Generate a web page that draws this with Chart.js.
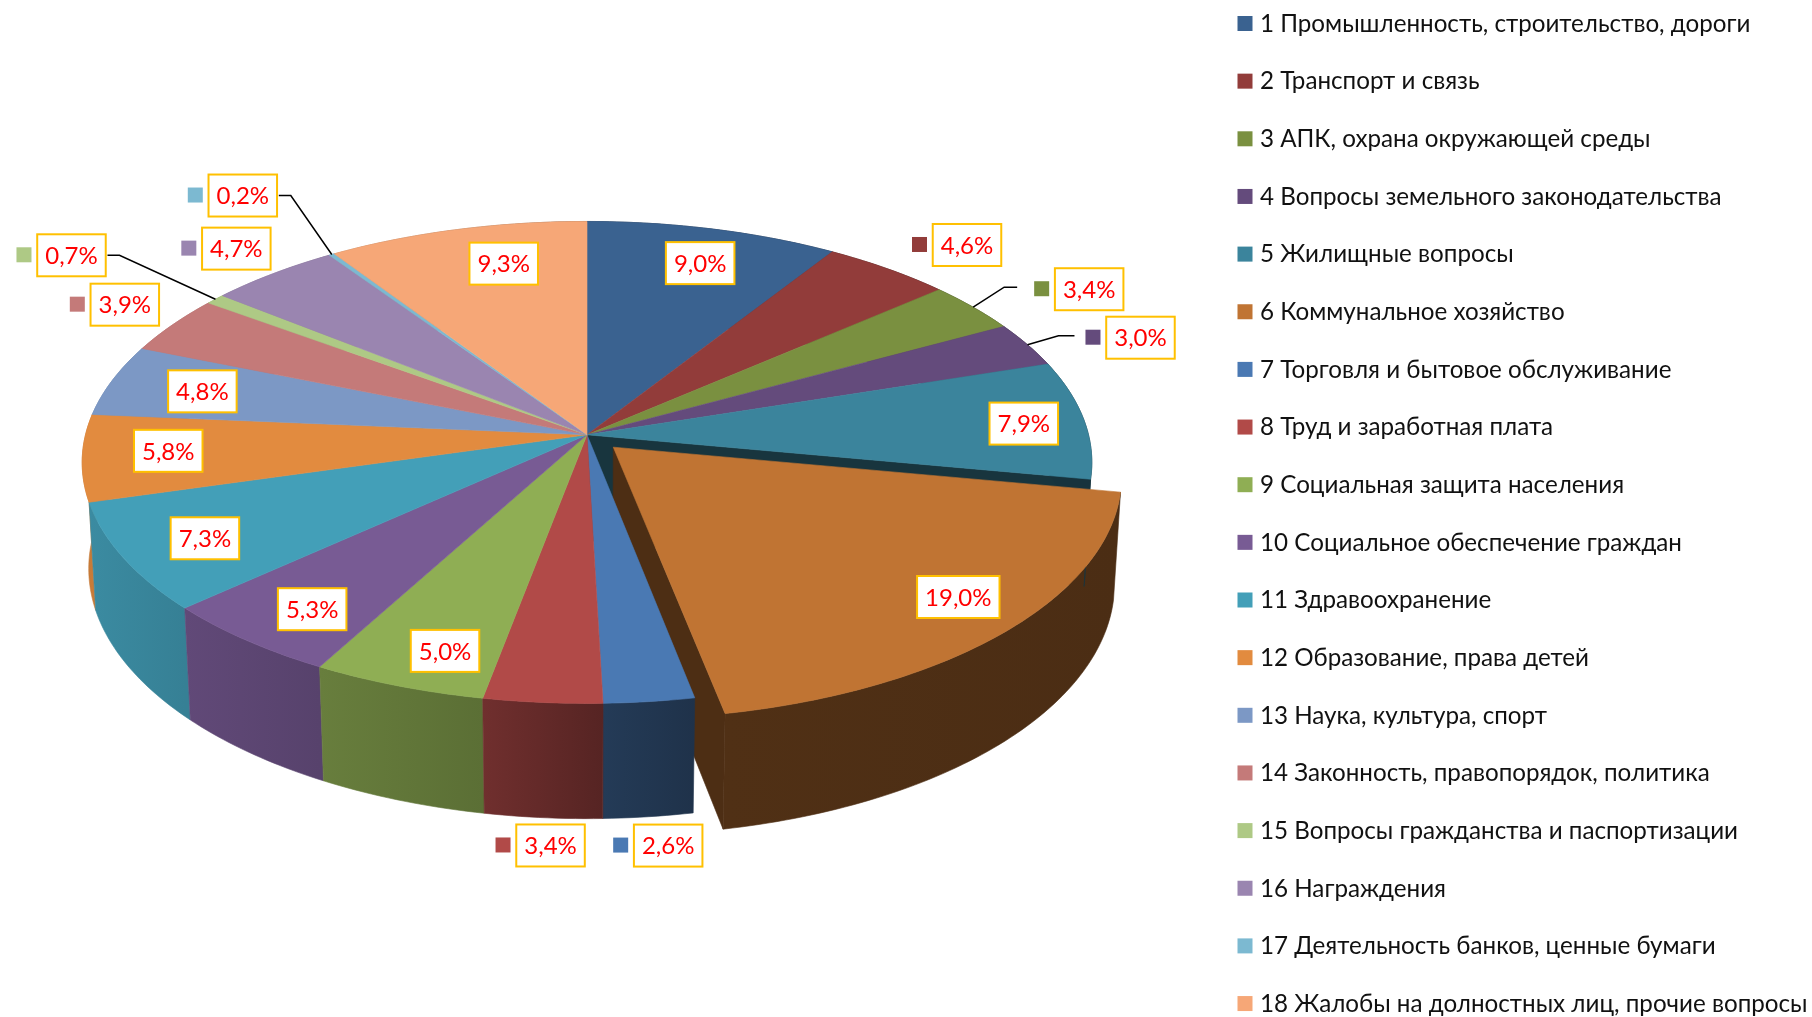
<!DOCTYPE html>
<html>
<head>
<meta charset="utf-8">
<style>
  html, body { margin: 0; padding: 0; background: #fff; overflow: hidden; }
  canvas { display: block; }
</style>
<script src="https://cdn.jsdelivr.net/npm/chart.js@4"></script>
</head>
<body>
<canvas id="pie" width="1812" height="1017"></canvas>
<script>
const categories = [
  '1 Промышленность, строительство, дороги',
  '2 Транспорт и связь',
  '3 АПК, охрана окружающей среды',
  '4 Вопросы земельного законодательства',
  '5 Жилищные вопросы',
  '6 Коммунальное хозяйство',
  '7 Торговля и бытовое обслуживание',
  '8 Труд и заработная плата',
  '9 Социальная защита населения',
  '10 Социальное обеспечение граждан',
  '11 Здравоохранение',
  '12 Образование, права детей',
  '13 Наука, культура, спорт',
  '14 Законность, правопорядок, политика',
  '15 Вопросы гражданства и паспортизации',
  '16 Награждения',
  '17 Деятельность банков, ценные бумаги',
  '18 Жалобы на долностных лиц, прочие вопросы'
];
const shares = [9.0, 4.6, 3.4, 3.0, 7.9, 19.0, 2.6, 3.4, 5.0, 5.3, 7.3, 5.8, 4.8, 3.9, 0.7, 4.7, 0.2, 9.3];
const sliceColors = [
  '#3a6290', '#923c3a', '#7a9040', '#644b7c', '#3b849c', '#c07433',
  '#4a79b3', '#b14a48', '#8fae54', '#785b94', '#439fb8', '#e28b3f',
  '#7c98c5', '#c47a79', '#aec985', '#9a85b0', '#7cb9d1', '#f6a777'
];
const sliceOffsets = [0, 0, 0, 0, 0, 36, 0, 0, 0, 0, 0, 0, 0, 0, 0, 0, 0, 0];

// label box centre, relative to the middle of the slice's rim
const labelOffsets = [
  [-13, 34], [79, -24], [116, -18], [113, -7], [-60, 4], [-16, -20],
  [19, 144], [8, 143], [47, -35], [66, -31], [82, -19], [86, -7],
  [90, 11], [-48, -20], [-144, -44], [-37, -25], [-89, -59], [47, 34]
];
const slicesWithKey = [1, 2, 3, 6, 7, 13, 14, 15, 16];
// slice index: [leader end x, elbow x, y], relative to the label centre
const leaders = { 2: [-72, -85, -2], 3: [-66, -82, -2], 14: [36, 48, 0], 16: [36, 48, 0] };

const FONT = 'Lato, "Open Sans", sans-serif';
const pie3d = { cx: 587, cy: 434.8, rx: 501.5, ry: 237.8, persp: 0.1147, drop: 107, sink: 0.013 };

function project(x, y, z) {
  const w = 1 - pie3d.persp * y + pie3d.sink * z;
  return [pie3d.cx + pie3d.rx * x / w, pie3d.cy + (pie3d.ry * y + pie3d.drop * z) / w];
}

// arc angles come from chart.js, 0 is up and it runs clockwise
function sliceGeometry(arc) {
  const start = arc.startAngle + Math.PI / 2;
  const end = arc.endAngle + Math.PI / 2;
  const mid = (start + end) / 2;
  const e = (arc.options.offset || 0) / arc.outerRadius;
  return { start, end, mid, ox: e * Math.sin(mid), oy: -e * Math.cos(mid) };
}

function rimPoint(g, angle, z) {
  return project(g.ox + Math.sin(angle), g.oy - Math.cos(angle), z);
}

function rimPoints(g, z) {
  const steps = Math.max(2, Math.ceil((g.end - g.start) * 60));
  const pts = [];
  for (let i = 0; i <= steps; i++) {
    pts.push(rimPoint(g, g.start + (g.end - g.start) * i / steps, z));
  }
  return pts;
}

function fillPoly(ctx, pts, fill) {
  ctx.beginPath();
  pts.forEach((p, i) => (i ? ctx.lineTo(p[0], p[1]) : ctx.moveTo(p[0], p[1])));
  ctx.closePath();
  ctx.fillStyle = fill;
  ctx.fill();
  ctx.strokeStyle = fill;
  ctx.lineWidth = 0.6;
  ctx.stroke();
}

function shadeColor(hex, k) {
  const n = parseInt(hex.slice(1), 16);
  return `rgb(${Math.round((n >> 16) * k)},${Math.round(((n >> 8) & 255) * k)},${Math.round((n & 255) * k)})`;
}

// walls get darker from left to right
function wallShade(x) {
  return x < -0.07 ? 0.578 - 0.31 * x : Math.max(0.39, 0.5 - 0.45 * x);
}

function drawTop(ctx, g, color) {
  const apex = project(g.ox, g.oy, 0);
  fillPoly(ctx, [apex].concat(rimPoints(g, 0)), color);
}

function drawWall(ctx, g, color) {
  const top = rimPoints(g, 0);
  const bottom = rimPoints(g, 1).reverse();
  const x1 = top[0][0];
  const x2 = top[top.length - 1][0];
  const grad = ctx.createLinearGradient(x1, 0, x2 === x1 ? x1 + 1 : x2, 0);
  grad.addColorStop(0, shadeColor(color, wallShade(Math.sin(g.start))));
  grad.addColorStop(1, shadeColor(color, wallShade(Math.sin(g.end))));
  fillPoly(ctx, top.concat(bottom), grad);
}

// the flat side of a slice, showing where the exploded slice left a gap
function drawFace(ctx, g, angle, color) {
  fillPoly(ctx, [
    project(g.ox, g.oy, 0), rimPoint(g, angle, 0),
    rimPoint(g, angle, 1), project(g.ox, g.oy, 1)
  ], shadeColor(color, 0.4));
}

const pie3dPlugin = {
  id: 'pie3d',
  beforeDatasetDraw(chart, args) {
    const ctx = chart.ctx;
    const geos = args.meta.data.map(sliceGeometry);
    const colors = chart.data.datasets[0].backgroundColor;
    const exploded = geos.map((g, i) => i).filter(i => sliceOffsets[i] > 0);
    const resting = geos.map((g, i) => i).filter(i => sliceOffsets[i] === 0);
    const depth = i => -Math.cos(geos[i].mid);

    exploded.forEach(i => {
      const before = (i + geos.length - 1) % geos.length;
      drawFace(ctx, geos[before], geos[before].end, colors[before]);
      drawFace(ctx, geos[i], geos[i].end, colors[i]);
      drawWall(ctx, geos[i], colors[i]);
    });
    resting.slice().sort((a, b) => depth(a) - depth(b)).forEach(i => drawWall(ctx, geos[i], colors[i]));
    resting.forEach(i => drawTop(ctx, geos[i], colors[i]));
    exploded.forEach(i => drawTop(ctx, geos[i], colors[i]));
    return false;
  },
  afterDatasetsDraw(chart) {
    const ctx = chart.ctx;
    const meta = chart.getDatasetMeta(0);
    const colors = chart.data.datasets[0].backgroundColor;
    ctx.save();
    ctx.textAlign = 'center';
    ctx.textBaseline = 'middle';
    meta.data.forEach((arc, i) => {
      const g = sliceGeometry(arc);
      const rim = project(Math.sin(g.mid), -Math.cos(g.mid), 0);
      const lx = rim[0] + labelOffsets[i][0];
      const ly = rim[1] + labelOffsets[i][1];
      const text = shares[i].toFixed(1).replace('.', ',') + '%';

      if (leaders[i]) {
        const [endX, elbowX, dy] = leaders[i];
        ctx.beginPath();
        ctx.moveTo(rim[0], rim[1]);
        ctx.lineTo(lx + elbowX, ly + dy);
        ctx.lineTo(lx + endX, ly + dy);
        ctx.strokeStyle = '#000';
        ctx.lineWidth = 1.5;
        ctx.stroke();
      }

      ctx.font = '24px ' + FONT;
      const w = ctx.measureText(text).width + 16;
      ctx.fillStyle = '#fff';
      ctx.fillRect(lx - w / 2, ly - 21, w, 42);
      ctx.strokeStyle = '#ffc000';
      ctx.lineWidth = 2;
      ctx.strokeRect(lx - w / 2, ly - 21, w, 42);
      ctx.fillStyle = '#ff0000';
      ctx.fillText(text, lx, ly + 1);

      if (slicesWithKey.includes(i)) {
        ctx.fillStyle = colors[i];
        ctx.fillRect(lx - 55, ly - 8, 15, 15);
      }
    });
    ctx.restore();

    // legend is drawn here because 18 rows at this spacing overflow the built-in one
    ctx.save();
    ctx.font = '24.2px ' + FONT;
    ctx.textAlign = 'left';
    ctx.textBaseline = 'middle';
    chart.data.labels.forEach((label, i) => {
      const y = 24 + i * 57.65;
      ctx.fillStyle = colors[i];
      ctx.fillRect(1237.5, y - 8, 15, 15);
      ctx.fillStyle = '#111';
      ctx.fillText(label, 1260, y);
    });
    ctx.restore();
  }
};

new Chart(document.getElementById('pie'), {
  type: 'pie',
  data: {
    labels: categories,
    datasets: [{ data: shares, backgroundColor: sliceColors, offset: sliceOffsets, borderWidth: 0 }]
  },
  options: {
    responsive: false,
    animation: false,
    plugins: { legend: { display: false }, tooltip: { enabled: false } }
  },
  plugins: [pie3dPlugin]
});
</script>
</body>
</html>
